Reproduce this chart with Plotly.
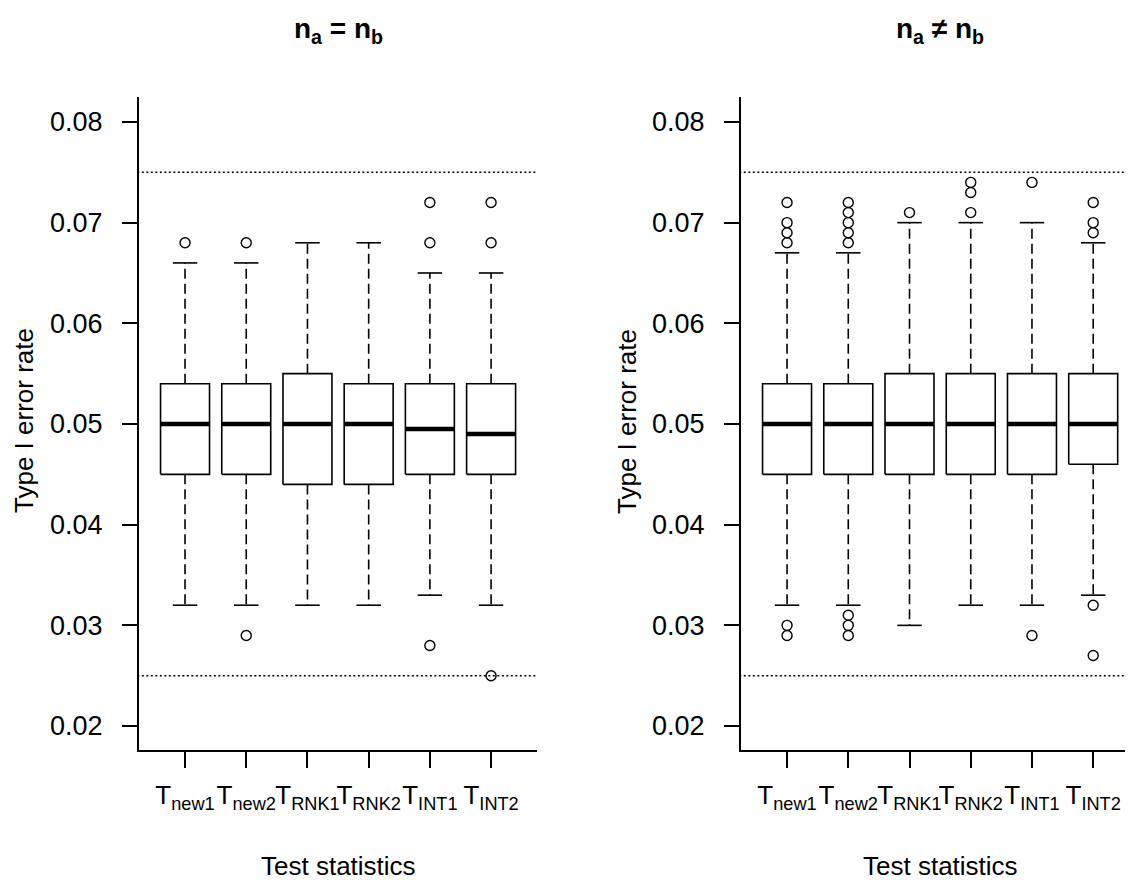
import plotly.graph_objects as go

# ---------------- data ----------------
labels = ["T<sub>new1</sub>", "T<sub>new2</sub>", "T<sub>RNK1</sub>",
          "T<sub>RNK2</sub>", "T<sub>INT1</sub>", "T<sub>INT2</sub>"]
positions = [1, 2, 3, 4, 5, 6]

# Panel 1: n_a = n_b
eq_lower = [0.032, 0.032, 0.032, 0.032, 0.033, 0.032]
eq_q1 = [0.045, 0.045, 0.044, 0.044, 0.045, 0.045]
eq_median = [0.050, 0.050, 0.050, 0.050, 0.0495, 0.049]
eq_q3 = [0.054, 0.054, 0.055, 0.054, 0.054, 0.054]
eq_upper = [0.066, 0.066, 0.068, 0.068, 0.065, 0.065]
eq_outliers = [[0.068], [0.068, 0.029], [], [], [0.072, 0.068, 0.028], [0.072, 0.068, 0.025]]

# Panel 2: n_a != n_b
ne_lower = [0.032, 0.032, 0.030, 0.032, 0.032, 0.033]
ne_q1 = [0.045, 0.045, 0.045, 0.045, 0.045, 0.046]
ne_median = [0.050, 0.050, 0.050, 0.050, 0.050, 0.050]
ne_q3 = [0.054, 0.054, 0.055, 0.055, 0.055, 0.055]
ne_upper = [0.067, 0.067, 0.070, 0.070, 0.070, 0.068]
ne_outliers = [[0.072, 0.070, 0.069, 0.068, 0.030, 0.029],
               [0.072, 0.071, 0.070, 0.069, 0.068, 0.031, 0.030, 0.029],
               [0.071],
               [0.074, 0.073, 0.071],
               [0.074, 0.029],
               [0.072, 0.070, 0.069, 0.032, 0.027]]

ref_lines = [0.025, 0.075]
y_ticks = [0.02, 0.03, 0.04, 0.05, 0.06, 0.07, 0.08]

# ---------------- layout constants ----------------
OFF = 8  # default page body margin
W, H = 1133 - OFF, 880 - OFF
FONT = "Arial, Liberation Sans, sans-serif"
BOX_HALF = 0.4
STAPLE_HALF = 0.2
LW = 1.6


def px_x(X):
    return (X - OFF) / W


def px_y(Y):
    return 1 - (Y - OFF) / H


fig = go.Figure()


def add_panel(xa, ya, lower, q1, med, q3, upper, outl, xmax):
    bx, by, mx, my, wx, wy, sx, sy, ox, oy = [], [], [], [], [], [], [], [], [], []
    for i, p in enumerate(positions):
        bx += [p - BOX_HALF, p + BOX_HALF, p + BOX_HALF, p - BOX_HALF, p - BOX_HALF, None]
        by += [q1[i], q1[i], q3[i], q3[i], q1[i], None]
        mx += [p - BOX_HALF, p + BOX_HALF, None]
        my += [med[i], med[i], None]
        wx += [p, p, None, p, p, None]
        wy += [q3[i], upper[i], None, q1[i], lower[i], None]
        sx += [p - STAPLE_HALF, p + STAPLE_HALF, None, p - STAPLE_HALF, p + STAPLE_HALF, None]
        sy += [upper[i], upper[i], None, lower[i], lower[i], None]
        for v in outl[i]:
            ox.append(p)
            oy.append(v)
    common = dict(xaxis=xa, yaxis=ya, showlegend=False, hoverinfo="skip")
    rx, ry = [], []
    for r in ref_lines:
        rx += [0, xmax + 1, None]
        ry += [r, r, None]
    fig.add_trace(go.Scatter(x=rx, y=ry, mode="lines",
                             line=dict(color="black", width=1.5, dash="2px,2.5px"), **common))
    fig.add_trace(go.Scatter(x=wx, y=wy, mode="lines",
                             line=dict(color="black", width=LW, dash="10px,5px"), **common))
    fig.add_trace(go.Scatter(x=sx, y=sy, mode="lines",
                             line=dict(color="black", width=LW), **common))
    fig.add_trace(go.Scatter(x=bx, y=by, mode="lines", fill="toself", fillcolor="white",
                             line=dict(color="black", width=LW), **common))
    fig.add_trace(go.Scatter(x=mx, y=my, mode="lines",
                             line=dict(color="black", width=4.5), **common))
    fig.add_trace(go.Scatter(x=ox, y=oy, mode="markers",
                             marker=dict(symbol="circle-open", size=10, color="black",
                                         line=dict(width=1.4)), **common))


add_panel("x", "y", eq_lower, eq_q1, eq_median, eq_q3, eq_upper, eq_outliers, 6.75)
add_panel("x2", "y2", ne_lower, ne_q1, ne_median, ne_q3, ne_upper, ne_outliers, 6.65)

ydom = [px_y(750), px_y(97)]
yrange = [0.01762, 0.08248]

xaxis_common = dict(
    tickmode="array", tickvals=positions, ticktext=labels, tickangle=0,
    showline=True, linecolor="black", linewidth=2,
    ticks="outside", ticklen=16, tickwidth=1.6, tickcolor="black",
    showgrid=False, zeroline=False, ticklabelstandoff=5,
    tickfont=dict(family=FONT, size=26, color="black"),
)
yaxis_common = dict(
    tickmode="array", tickvals=y_ticks, ticktext=[f"{v:.2f}" for v in y_ticks],
    range=yrange, domain=ydom,
    showline=True, linecolor="black", linewidth=2,
    ticks="outside", ticklen=15, tickwidth=1.6, tickcolor="black",
    showgrid=False, zeroline=False, ticklabelstandoff=14,
    tickfont=dict(family=FONT, size=27, color="black"),
)

fig.update_layout(
    width=W, height=H,
    margin=dict(l=0, r=0, t=0, b=0),
    paper_bgcolor="white", plot_bgcolor="white",
    xaxis=dict(domain=[px_x(139), px_x(537)], range=[0.248, 6.75], anchor="y", **xaxis_common),
    yaxis=dict(anchor="x", **yaxis_common),
    xaxis2=dict(domain=[px_x(741), 1.0], range=[0.248, 6.65], anchor="y2", **xaxis_common),
    yaxis2=dict(anchor="x2", **yaxis_common),
    font=dict(family=FONT, color="black"),
)

annots = [
    dict(text="<b>n<sub>a</sub> = n<sub>b</sub></b>", x=338, y=31, size=28),
    dict(text="<b>n<sub>a</sub> ≠ n<sub>b</sub></b>", x=940, y=31, size=28),
    dict(text="Test statistics", x=338, y=866, size=26),
    dict(text="Test statistics", x=940, y=866, size=26),
]
for a in annots:
    fig.add_annotation(text=a["text"], x=px_x(a["x"]), y=px_y(a["y"]), xref="paper", yref="paper",
                       xanchor="center", yanchor="middle", showarrow=False,
                       font=dict(family=FONT, size=a["size"], color="black"))
for xp in [24, 627]:
    fig.add_annotation(text="Type I error rate", x=px_x(xp), y=px_y(421), xref="paper",
                       yref="paper", xanchor="center", yanchor="middle", showarrow=False,
                       textangle=-90, font=dict(family=FONT, size=26, color="black"))

fig.write_html("out.html")
